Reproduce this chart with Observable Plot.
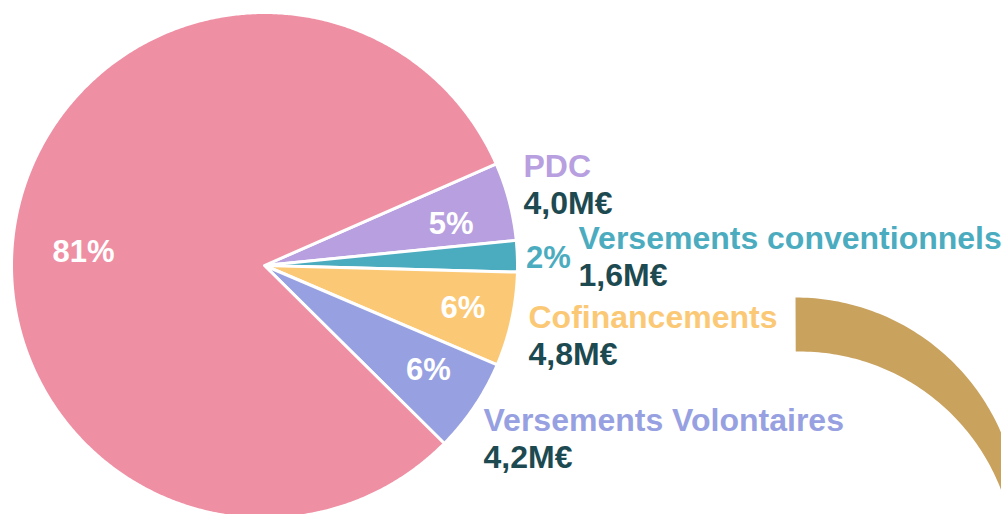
<!DOCTYPE html>
<html>
<head>
<meta charset="utf-8">
<script src="https://cdn.jsdelivr.net/npm/d3@7"></script>
<script src="https://cdn.jsdelivr.net/npm/@observablehq/plot@0.6"></script>
<style>
  html, body { margin: 0; padding: 0; background: #fff; overflow: hidden; }
  #chart svg { display: block; }
</style>
</head>
<body>
<div id="chart"></div>
<script>
// ---- data ----
const categories = ["PDC", "Versements conventionnels", "Cofinancements", "Versements Volontaires", "Autres"];
const shares = [5, 2, 6, 6, 81];
const amounts = ["4,0M€", "1,6M€", "4,8M€", "4,2M€", ""];
const percentLabels = ["5%", "2%", "6%", "6%", "81%"];
const colors = ["#b89fdf", "#4cacbf", "#fbc976", "#97a1e1", "#ef8fa3"];
const titleFragment = "sation";

// ---- layout (not data) ----
const W = 1001, H = 514;
const cx = 264, cy = 265, R = 253;
const startDeg = 66.3;
const rad = Math.PI / 180;
// percentage label placement: radius and small nudges
const pctLayout = [
  {r: 195, dx: -2, dy: 8, fill: "#ffffff"},
  {r: 284, dx: 0, dy: 3, fill: "#4cacbf"},
  {r: 195, dx: 8, dy: 1, fill: "#ffffff"},
  {r: 195, dx: 2, dy: -4, fill: "#ffffff"},
  {r: 184, dx: 0, dy: 20, fill: "#ffffff"}
];
// name / amount label anchors
const nameLayout = [
  {x: 523, base: 176},
  {x: 578, base: 248},
  {x: 528, base: 327},
  {x: 483, base: 430},
  null
];
const valueGap = 37;
const FS = 32;
const PFS = 31;

const pie = d3.pie().sort(null).value(d => d.share)
  .startAngle(startDeg * rad).endAngle(startDeg * rad + 2 * Math.PI);
const rows = categories.map((name, i) => ({name, share: shares[i], amount: amounts[i], pct: percentLabels[i], color: colors[i], i}));
const arcs = pie(rows);

function polar(x0, y0, r, a) { return [x0 + r * Math.sin(a), y0 - r * Math.cos(a)]; }

// slice polygons
const slicePts = [];
arcs.forEach(a => {
  const n = Math.max(4, Math.ceil((a.endAngle - a.startAngle) / (0.4 * rad)));
  slicePts.push({k: a.data.name, x: cx, y: cy, c: a.data.color});
  for (let j = 0; j <= n; j++) {
    const t = a.startAngle + (a.endAngle - a.startAngle) * j / n;
    const [x, y] = polar(cx, cy, R, t);
    slicePts.push({k: a.data.name, x, y, c: a.data.color});
  }
  slicePts.push({k: a.data.name, x: cx, y: cy, c: a.data.color});
});

// decorative brown swoosh (part of a neighbouring graphic)
const deco = {outer: {x: 795, y: 521, r: 224}, inner: {x: 799, y: 567, r: 216}, color: "#c9a25e"};
const decoPts = [];
for (let j = 0; j <= 90; j++) {
  const [x, y] = polar(deco.outer.x, deco.outer.y, deco.outer.r, j * rad);
  decoPts.push({x, y});
}
for (let j = 90; j >= -1; j--) {
  const [x, y] = polar(deco.inner.x, deco.inner.y, deco.inner.r, j * rad);
  decoPts.push({x, y});
}

// percentage labels
const pctData = arcs.map((a, i) => {
  const m = (a.startAngle + a.endAngle) / 2;
  const L = pctLayout[i];
  const [x, y] = polar(cx, cy, L.r, m);
  return {x: x + L.dx, y: y + L.dy, text: a.data.pct, fill: L.fill};
});

// names & values
const nameData = [], valueData = [];
rows.forEach((d, i) => {
  const L = nameLayout[i];
  if (!L) return;
  nameData.push({x: L.x, y: L.base - 0.32 * FS, text: d.name, fill: d.color});
  valueData.push({x: L.x, y: L.base + valueGap - 0.32 * FS, text: d.amount});
});

const font = "'Liberation Sans', Arial, Helvetica, sans-serif";

const chart = Plot.plot({
  width: W, height: H,
  margin: 0,
  x: {domain: [0, W], range: [0, W], axis: null},
  y: {domain: [0, H], range: [0, H], axis: null},
  color: {type: "identity"},
  style: {fontFamily: font, background: "#fff", overflow: "hidden"},
  marks: [
    Plot.text([titleFragment], {x: () => 2, y: () => -0.2 - 0.32 * 44, text: d => d, textAnchor: "start",
      fontSize: 44, fontWeight: "bold", fill: "#2f5d63", fontFamily: font}),
    Plot.line(decoPts, {x: "x", y: "y", fill: deco.color, stroke: "none", curve: "linear"}),
    Plot.line(slicePts, {x: "x", y: "y", z: "k", fill: "c", stroke: "#ffffff", strokeWidth: 3,
      strokeLinejoin: "round", curve: "linear"}),
    Plot.text(pctData, {x: "x", y: "y", text: "text", fill: "fill", fontSize: PFS, fontWeight: "bold",
      textAnchor: "middle", fontFamily: font}),
    Plot.text(nameData, {x: "x", y: "y", text: "text", fill: "fill", fontSize: FS, fontWeight: "bold",
      textAnchor: "start", fontFamily: font}),
    Plot.text(valueData, {x: "x", y: "y", text: "text", fill: "#1d4a51", fontSize: FS, fontWeight: "bold",
      textAnchor: "start", fontFamily: font})
  ]
});
document.getElementById("chart").appendChild(chart);
</script>
</body>
</html>
